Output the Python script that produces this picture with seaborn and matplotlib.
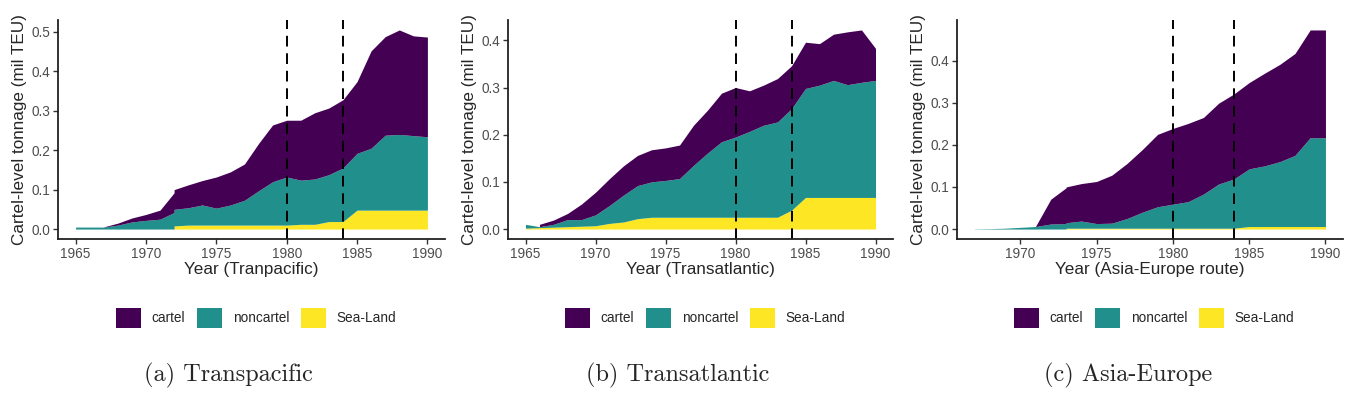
import matplotlib
matplotlib.use("Agg")
import matplotlib.pyplot as plt
from matplotlib.patches import Patch
import numpy as np
import seaborn as sns

# colours (ggplot viridis_d, 3 levels)
COLORS = ["#440154", "#21908C", "#FDE725"]
SERIES = ["cartel", "noncartel", "Sea-Land"]

# --- (a) Transpacific ---
tp_nc_years = list(range(1965, 1991))
tp_noncartel = [0.005, 0.005, 0.005, 0.010, 0.018, 0.022, 0.025, 0.042, 0.044, 0.051,
                0.043, 0.051, 0.063, 0.087, 0.110, 0.122, 0.112, 0.115, 0.119, 0.136,
                0.144, 0.157, 0.190, 0.192, 0.189, 0.186]
tp_c_years = list(range(1967, 1991))
tp_cartel = [0.0005, 0.005, 0.010, 0.015, 0.023, 0.050, 0.058, 0.062, 0.079, 0.084,
             0.092, 0.120, 0.144, 0.144, 0.152, 0.168, 0.169, 0.173, 0.182, 0.247,
             0.250, 0.265, 0.253, 0.253]
tp_sl_years = list(range(1972, 1991))
tp_sealand = [0.008, 0.010, 0.010, 0.010, 0.010, 0.010, 0.010, 0.010, 0.010, 0.012,
              0.012, 0.019, 0.019, 0.048, 0.048, 0.048, 0.048, 0.048, 0.048]

# --- (b) Transatlantic ---
ta_nc_years = list(range(1965, 1991))
ta_noncartel = [0.008, 0.002, 0.006, 0.015, 0.014, 0.023, 0.038, 0.057, 0.070, 0.075,
                0.078, 0.082, 0.110, 0.136, 0.160, 0.170, 0.182, 0.195, 0.202, 0.215,
                0.231, 0.238, 0.248, 0.239, 0.244, 0.248]
ta_c_years = list(range(1966, 1991))
ta_cartel = [0.005, 0.009, 0.013, 0.033, 0.048, 0.057, 0.062, 0.064, 0.068, 0.069,
             0.071, 0.085, 0.091, 0.103, 0.105, 0.086, 0.085, 0.092, 0.091, 0.098,
             0.088, 0.098, 0.112, 0.111, 0.068]
ta_sl_years = list(range(1965, 1991))
ta_sealand = [0.002, 0.003, 0.004, 0.005, 0.006, 0.007, 0.012, 0.015, 0.022, 0.025,
              0.025, 0.025, 0.025, 0.025, 0.025, 0.025, 0.025, 0.025, 0.025, 0.040,
              0.067, 0.067, 0.067, 0.067, 0.067, 0.067]

# --- (c) Asia-Europe ---
ae_nc_years = list(range(1967, 1991))
ae_noncartel = [0.0005, 0.001, 0.002, 0.004, 0.006, 0.012, 0.013, 0.017, 0.011, 0.012,
                0.023, 0.038, 0.051, 0.057, 0.063, 0.081, 0.105, 0.117, 0.137, 0.144,
                0.154, 0.169, 0.211, 0.211]
ae_c_years = list(range(1971, 1991))
ae_cartel = [0.0005, 0.059, 0.085, 0.089, 0.100, 0.114, 0.131, 0.149, 0.172, 0.180,
             0.186, 0.182, 0.192, 0.202, 0.205, 0.220, 0.231, 0.242, 0.256, 0.256]
ae_sl_years = list(range(1973, 1991))
ae_sealand = [0.002] * 12 + [0.006] * 6

vlines = [1980, 1984]

panels = [
    dict(layers=[(tp_sl_years, tp_sealand), (tp_nc_years, tp_noncartel), (tp_c_years, tp_cartel)],
         xlabel="Year (Tranpacific)", caption="(a) Transpacific",
         xticks=[1965, 1970, 1975, 1980, 1985, 1990], yticks=[0, 0.1, 0.2, 0.3, 0.4, 0.5],
         ax_px=(58, 445), legend_x=256, caption_x=228),
    dict(layers=[(ta_sl_years, ta_sealand), (ta_nc_years, ta_noncartel), (ta_c_years, ta_cartel)],
         xlabel="Year (Transatlantic)", caption="(b) Transatlantic",
         xticks=[1965, 1970, 1975, 1980, 1985, 1990], yticks=[0, 0.1, 0.2, 0.3, 0.4],
         ax_px=(508, 893), legend_x=705, caption_x=678),
    dict(layers=[(ae_sl_years, ae_sealand), (ae_nc_years, ae_noncartel), (ae_c_years, ae_cartel)],
         xlabel="Year (Asia-Europe route)", caption="(c) Asia-Europe",
         xticks=[1970, 1975, 1980, 1985, 1990], yticks=[0, 0.1, 0.2, 0.3, 0.4],
         ax_px=(957, 1343), legend_x=1154, caption_x=1128),
]

sns.set_theme(style="ticks")
plt.rcParams["font.family"] = ["Liberation Sans", "DejaVu Sans"]

W, H = 1356, 393
fig = plt.figure(figsize=(W / 100, H / 100), dpi=100)


def stack(layers, eps=1e-3):
    # align all layers on a common grid, zero outside each layer's own range
    grid = set()
    for yrs, _ in layers:
        grid.update(yrs)
        grid.update([yrs[0] - eps, yrs[-1] + eps])
    grid = np.array(sorted(grid))
    vals = [np.interp(grid, yrs, v, left=0, right=0) for yrs, v in layers]
    return grid, np.cumsum(vals, axis=0)


for p in panels:
    x0, x1 = p["ax_px"]
    ax = fig.add_axes([x0 / W, 1 - 239 / H, (x1 - x0) / W, 219 / H])
    grid, cum = stack(p["layers"])
    # bottom to top: Sea-Land, noncartel, cartel
    fills = [COLORS[2], COLORS[1], COLORS[0]]
    lower = np.zeros_like(grid)
    for upper, col in zip(cum, fills):
        ax.fill_between(grid, lower, upper, color=col, linewidth=0)
        lower = upper
    for v in vlines:
        ax.axvline(v, color="black", linestyle=(0, (5.5, 3.5)), linewidth=1.4)

    allx = [y for yrs, _ in p["layers"] for y in yrs]
    xmin, xmax = min(allx), max(allx)
    pad = (xmax - xmin) * 0.05
    ax.set_xlim(xmin - pad, xmax + pad)
    ymax = cum[-1].max()
    ax.set_ylim(-ymax * 0.05, ymax * 1.05)

    ax.set_xticks(p["xticks"])
    ax.set_yticks(p["yticks"])
    ax.set_yticklabels([f"{t:.1f}" for t in p["yticks"]])
    ax.tick_params(axis="both", labelsize=9.8, labelcolor="#4D4D4D", color="#333333",
                   length=3.5, width=1, pad=2)
    sns.despine(ax=ax)
    for s in ["left", "bottom"]:
        ax.spines[s].set_linewidth(1.3)
        ax.spines[s].set_color("#222222")
    ax.set_facecolor("white")
    ax.set_xlabel(p["xlabel"], fontsize=12.3, labelpad=1)
    ax.set_ylabel("Cartel-level tonnage (mil TEU)", fontsize=12.3, labelpad=3)

    handles = [Patch(facecolor=c, edgecolor="none") for c in COLORS]
    fig.legend(handles, SERIES, loc="center", bbox_to_anchor=(p["legend_x"] / W, 1 - 318 / H),
               ncol=3, frameon=False, fontsize=9.8, handlelength=1.85, handleheight=1.85,
               handletextpad=0.8, columnspacing=0.85)
    fig.text(p["caption_x"] / W, 1 - 375 / H, p["caption"], ha="center", va="center",
             fontsize=17.5, family="cmr10")

fig.patch.set_facecolor("white")
fig.savefig("out.png", dpi=100)
